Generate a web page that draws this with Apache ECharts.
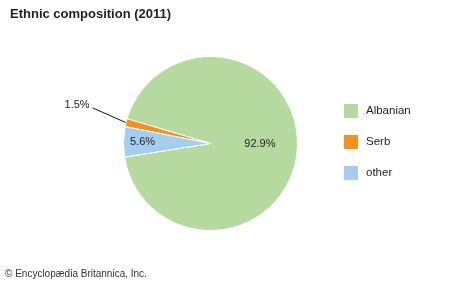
<!DOCTYPE html>
<html>
<head>
<meta charset="utf-8">
<script src="https://cdn.jsdelivr.net/npm/echarts@6/dist/echarts.min.js"></script>
<style>
html,body{margin:0;padding:0;background:#fff;}
#chart{width:474px;height:284px;}
</style>
</head>
<body>
<div id="chart"></div>
<script>
const titleText = 'Ethnic composition (2011)';
const sourceText = '\u00a9 Encyclop\u00e6dia Britannica, Inc.';
const categories = ['Albanian', 'Serb', 'other'];
const values = [92.9, 1.5, 5.6];
const colors = ['#b5d99e', '#f5921e', '#a5cdee'];

const FONT = '"Liberation Sans", Arial, Helvetica, sans-serif';
const TEXT = '#231f20';
const CENTER = [210.5, 143.5];
const R = 87;
const START = 189;

const mainData = categories.map((name, i) => ({
  name: name,
  value: values[i],
  itemStyle: { color: colors[i] },
  label: { show: name === 'Serb' },
  labelLine: { show: name === 'Serb' }
}));

function labelSeries(showName, inner, dy) {
  return {
    type: 'pie',
    silent: true,
    center: CENTER,
    radius: [inner, R],
    startAngle: START,
    clockwise: false,
    avoidLabelOverlap: false,
    emphasis: { disabled: true },
    itemStyle: { color: 'rgba(0,0,0,0)', borderWidth: 0 },
    label: {
      position: 'inside',
      formatter: '{c}%',
      fontFamily: FONT, fontSize: 11, color: TEXT
    },
    labelLine: { show: false },
    labelLayout: { dy: dy },
    data: categories.map((name, i) => ({
      name: name,
      value: values[i],
      label: { show: name === showName }
    }))
  };
}

const chart = echarts.init(document.getElementById('chart'), null, { renderer: 'canvas' });
chart.setOption({
  animation: false,
  backgroundColor: '#fff',
  title: [
    { text: titleText, left: 5, top: 3,
      textStyle: { fontFamily: FONT, fontSize: 13, fontWeight: 'bold', color: TEXT } },
    { text: sourceText, left: 0, top: 264,
      textStyle: { fontFamily: FONT, fontSize: 10, fontWeight: 'normal', color: '#333' } }
  ],
  legend: {
    orient: 'vertical',
    left: 337, top: 97,
    itemWidth: 16, itemHeight: 16, itemGap: 13,
    icon: 'rect',
    selectedMode: false,
    data: categories,
    textStyle: { fontFamily: FONT, fontSize: 11.5, color: TEXT, padding: [0, 0, 0, 2] }
  },
  series: [
    {
      type: 'pie',
      center: CENTER,
      radius: R,
      startAngle: START,
      clockwise: false,
      avoidLabelOverlap: false,
      emphasis: { disabled: true },
      itemStyle: { borderColor: '#fff', borderWidth: 1 },
      label: {
        position: 'outside',
        formatter: '{c}%',
        fontFamily: FONT, fontSize: 11, color: TEXT
      },
      labelLine: {
        length: 20, length2: 8,
        lineStyle: { color: '#111', width: 1 }
      },
      labelLayout: function (p) {
        if (p.dataIndex !== 1 || !p.labelLinePoints) return {};
        const dx = -4, dy = -13;
        const pts = p.labelLinePoints;
        const r = p.labelRect;
        const start = pts[0];
        const end = [r.x + r.width + dx + 3, r.y + r.height / 2 + dy + 3];
        const mid = [(start[0] + end[0]) / 2, (start[1] + end[1]) / 2];
        return { dx: dx, dy: dy, labelLinePoints: [start, mid, end] };
      },
      data: mainData
    },
    labelSeries('Albanian', 6, -3),
    labelSeries('other', 43, 0)
  ]
});
</script>
</body>
</html>
